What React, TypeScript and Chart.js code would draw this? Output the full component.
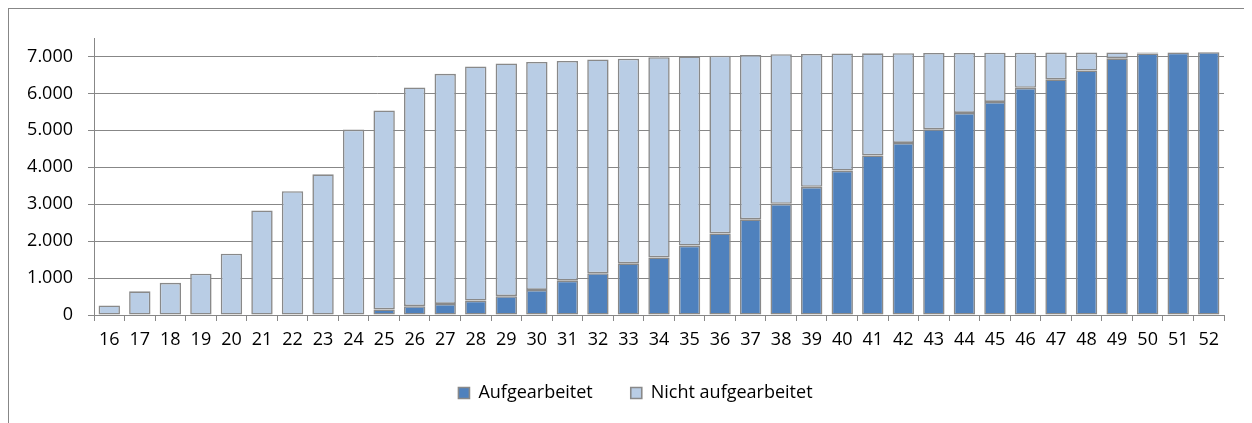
import React, { useEffect, useRef } from "react";
import { Chart, registerables } from "chart.js";

Chart.register(...registerables);

const weeks = [
  "16", "17", "18", "19", "20", "21", "22", "23", "24", "25", "26", "27", "28",
  "29", "30", "31", "32", "33", "34", "35", "36", "37", "38", "39", "40", "41",
  "42", "43", "44", "45", "46", "47", "48", "49", "50", "51", "52",
];

const aufgearbeitet = [
  0, 0, 0, 0, 0, 0, 0, 0, 0, 150, 240, 300, 390, 510, 680, 930, 1130, 1400, 1560,
  1880, 2210, 2590, 3010, 3470, 3910, 4320, 4660, 5030, 5470, 5770, 6150, 6380,
  6620, 6950, 7080, 7105, 7115,
];

const nichtAufgearbeitet = [
  260, 640, 870, 1120, 1660, 2830, 3350, 3810, 5020, 5390, 5920, 6230, 6340, 6300,
  6170, 5950, 5790, 5540, 5420, 5120, 4810, 4450, 4050, 3600, 3170, 2765, 2430,
  2065, 1625, 1330, 950, 725, 485, 160, 30, 10, 5,
];

const yTickValues = [0, 1000, 2000, 3000, 4000, 5000, 6000, 7000];

const FONT = "'Open Sans', sans-serif";
const GRID = "#878787";

const legendShift = {
  id: "legendShift",
  afterLayout(chart: any) {
    if (chart.legend) {
      chart.legend.left += 19;
      chart.legend.right += 19;
    }
  },
};

export default function App() {
  const ref = useRef<HTMLCanvasElement | null>(null);

  useEffect(() => {
    document.documentElement.style.overflow = "hidden";
    if (!ref.current) return;
    const chart = new Chart(ref.current, {
      type: "bar",
      data: {
        labels: weeks,
        datasets: [
          {
            label: "Aufgearbeitet",
            data: aufgearbeitet,
            backgroundColor: "#4F81BD",
            borderColor: "#898989",
            borderWidth: 1.6,
            borderSkipped: false,
            categoryPercentage: 1,
            barPercentage: 0.7,
          },
          {
            label: "Nicht aufgearbeitet",
            data: nichtAufgearbeitet,
            backgroundColor: "#B9CDE5",
            borderColor: "#898989",
            borderWidth: 1.6,
            borderSkipped: false,
            categoryPercentage: 1,
            barPercentage: 0.7,
          },
        ],
      },
      plugins: [legendShift],
      options: {
        animation: false,
        responsive: false,
        maintainAspectRatio: false,
        layout: { padding: { left: 0, right: 29, top: 29, bottom: 0 } },
        plugins: {
          tooltip: { enabled: false },
          legend: {
            position: "bottom",
            labels: {
              color: "#000",
              font: { family: FONT, size: 18 },
              boxWidth: 11,
              boxHeight: 11,
              padding: 38,
            },
          },
        },
        scales: {
          x: {
            stacked: true,
            grid: {
              display: true,
              drawOnChartArea: false,
              drawTicks: true,
              tickLength: 6,
              color: GRID,
              offset: true,
            },
            border: { color: GRID, width: 1 },
            ticks: {
              color: "#000",
              font: { family: FONT, size: 18 },
              padding: 8,
              maxRotation: 0,
              autoSkip: false,
            },
            afterFit: (s: any) => {
              s.height = 31;
            },
          },
          y: {
            stacked: true,
            min: 0,
            max: 7500,
            grid: {
              color: GRID,
              lineWidth: 1,
              drawTicks: true,
              tickLength: 6,
            },
            border: { color: GRID, width: 1 },
            afterBuildTicks: (axis: any) => {
              axis.ticks = yTickValues.map((v) => ({ value: v }));
            },
            ticks: {
              color: "#000",
              font: { family: FONT, size: 18 },
              padding: 15,
              callback: (v: any) => Number(v).toLocaleString("de-DE"),
            },
            afterFit: (s: any) => {
              s.width = 85;
            },
          },
        },
      },
    });
    return () => chart.destroy();
  }, []);

  return (
    <div
      style={{
        borderTop: "1px solid #878787",
        borderLeft: "1px solid #878787",
        width: 1244,
        height: 414,
        boxSizing: "content-box",
      }}
    >
      <canvas ref={ref} width={1244} height={403} style={{ display: "block" }} />
    </div>
  );
}
